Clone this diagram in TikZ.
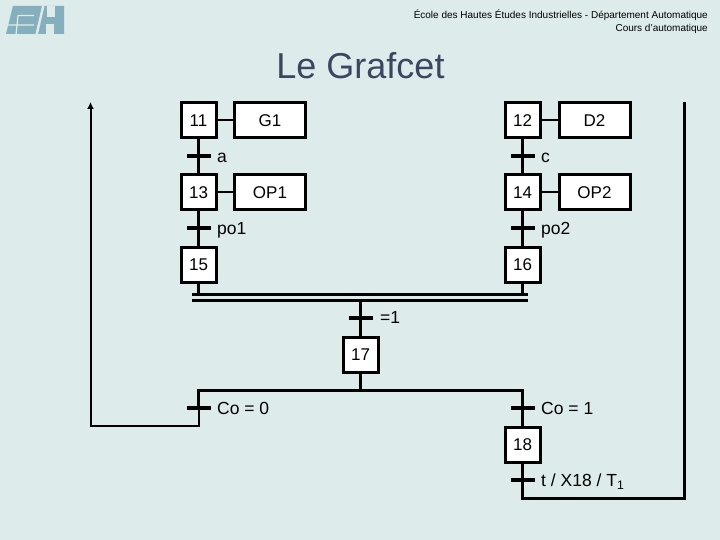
\documentclass[tikz,border=0pt]{standalone}
\usepackage{fontspec}
\setmainfont{Liberation Sans}
\usepackage{tikz}
\usetikzlibrary{arrows.meta}
\definecolor{pagebg}{HTML}{DDEBEA}
\definecolor{logoblue}{HTML}{86AFBD}
\definecolor{titleblue}{HTML}{3B4660}
\tikzset{
  stepbox/.style={draw,line width=3pt,fill=white,minimum width=35pt,minimum height=35pt,inner sep=0pt,font=\fontsize{17}{19}\selectfont},
  actbox/.style={draw,line width=3pt,fill=white,minimum width=71pt,minimum height=35pt,inner sep=0pt,font=\fontsize{17}{19}\selectfont},
  trbar/.style={fill=black,minimum width=24pt,minimum height=4.5pt,inner sep=0pt},
  syncbar/.style={fill=black,minimum width=336pt,minimum height=2.6pt,inner sep=0pt},
  trlabel/.style={anchor=base west,inner sep=0pt,font=\fontsize{17.5}{20}\selectfont},
  link/.style={line width=2.7pt},
  actlink/.style={line width=2pt}
}
\begin{document}
\begin{tikzpicture}[x=1pt,y=-1pt,>=Latex]
\useasboundingbox (0,0) rectangle (720,540);
\fill[pagebg] (0,0) rectangle (720,540);
% logo
\fill[logoblue] (6,34)--(13,6)--(64,6)--(64,34)--cycle;
\draw[pagebg,line width=1.2pt] (5,25)--(34,25) (18,15.5)--(34,15.5) (16,35)--(18,15.5);
\fill[pagebg] (35.5,34)--(42,6)--(44.5,6)--(38,34)--cycle;
\fill[pagebg] (47,6)--(55,6)--(55,17)--(47,17)--cycle;
\fill[pagebg] (46,24)--(54,24)--(54,34)--(46,34)--cycle;
% header
\node[anchor=base east,inner sep=0pt,font=\fontsize{10}{12}\selectfont] (hd1) at (708,19) {École des Hautes Études Industrielles - Département Automatique};
\node[anchor=base east,inner sep=0pt,font=\fontsize{10}{12}\selectfont] (hd2) at (708,31.5) {Cours d'automatique};
\node[anchor=base,inner sep=0pt,text=titleblue,font=\fontsize{36}{40}\selectfont] (title) at (360.5,79) {Le Grafcet};
% steps and actions
\node[stepbox] (st11) at (198.5,120.5) {11};
\node[actbox] (ac11) at (270,120.5) {G1};
\node[stepbox] (st12) at (522.5,120.5) {12};
\node[actbox] (ac12) at (594.5,120.5) {D2};
\node[stepbox] (st13) at (198.5,192.5) {13};
\node[actbox] (ac13) at (270,192.5) {OP1};
\node[stepbox] (st14) at (522.5,192.5) {14};
\node[actbox] (ac14) at (594.5,192.5) {OP2};
\node[stepbox] (st15) at (198.5,264.5) {15};
\node[stepbox] (st16) at (522.5,264.5) {16};
\node[stepbox] (st17) at (360.5,354.5) {17};
\node[stepbox] (st18) at (522.5,444.5) {18};
% transitions
\node[trbar] (tr1) at (198.5,156) {};
\node[trbar] (tr2) at (522.5,156) {};
\node[trbar] (tr3) at (198.5,228) {};
\node[trbar] (tr4) at (522.5,228) {};
\node[trbar] (tr5) at (360.5,318) {};
\node[trbar] (tr6) at (198.5,408) {};
\node[trbar] (tr7) at (522.5,408) {};
\node[trbar] (tr8) at (522.5,480) {};
\node[syncbar] (bar1) at (360,294.4) {};
\node[syncbar] (bar2) at (360,300.4) {};
% labels
\node[trlabel] (lb1) at (217,162.5) {a};
\node[trlabel] (lb2) at (541,162.5) {c};
\node[trlabel] (lb3) at (217,235) {po1};
\node[trlabel] (lb4) at (541,235) {po2};
\node[trlabel] (lb5) at (380,323.5) {=1};
\node[trlabel] (lb6) at (217,414) {Co = 0};
\node[trlabel] (lb7) at (541,414) {Co = 1};
\node[trlabel] (lb8) at (541,486.5) {t / X18 / T\textsubscript{1}};
% free ends of the connectors
\coordinate (jn1) at (198.5,390.5);
\coordinate (jn2) at (522.5,390.5);
\coordinate (rt1) at (198.5,426);
\coordinate (rt2) at (90.5,426);
\coordinate (rt3) at (90.5,102);
\coordinate (rt4) at (522.5,498.5);
\coordinate (rt5) at (684.5,498.5);
\coordinate (rt6) at (684.5,102);
% connectors
\draw[actlink] (st11)--(ac11);
\draw[actlink] (st12)--(ac12);
\draw[actlink] (st13)--(ac13);
\draw[actlink] (st14)--(ac14);
\draw[link] (st11)--(tr1);
\draw[link] (tr1)--(st13);
\draw[link] (st12)--(tr2);
\draw[link] (tr2)--(st14);
\draw[link] (st13)--(tr3);
\draw[link] (tr3)--(st15);
\draw[link] (st14)--(tr4);
\draw[link] (tr4)--(st16);
\draw[link] (st15)--(st15 |- bar1);
\draw[link] (st16)--(st16 |- bar1);
\draw[link] (tr5 |- bar2)--(tr5);
\draw[link] (tr5)--(st17);
\draw[link] (st17)--(st17 |- jn1);
\draw[link] (tr6)--(jn1)--(jn2)--(tr7);
\draw[link] (tr7)--(st18);
\draw[link] (st18)--(tr8);
\draw[link] (tr8)--(rt4)--(rt5)--(rt6);
\draw[line width=2pt,-{Latex[length=7pt,width=7pt]}] (tr6)--(rt1)--(rt2)--(rt3);
\end{tikzpicture}
\end{document}
